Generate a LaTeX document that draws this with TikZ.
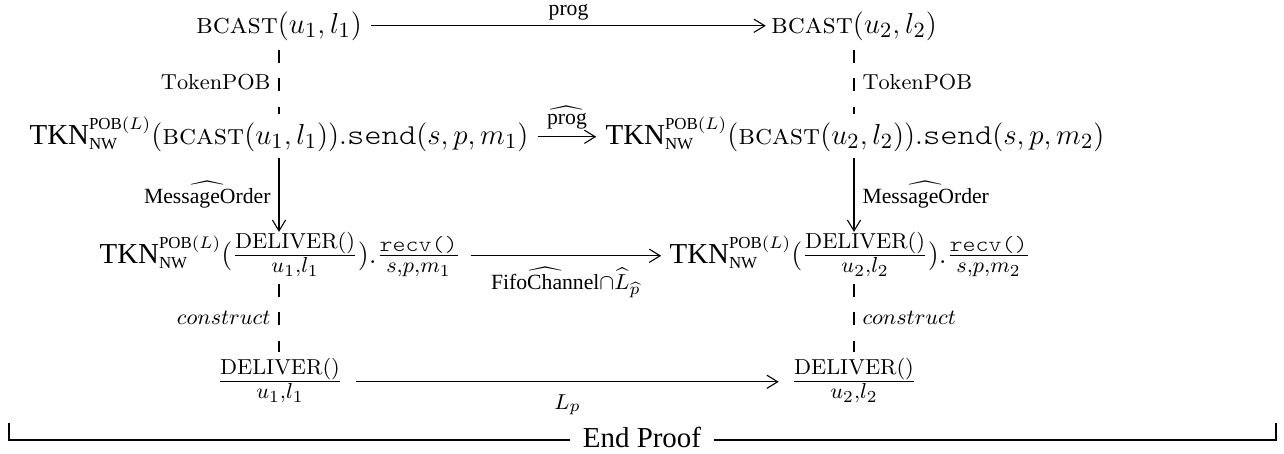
\documentclass[tikz,border=0pt]{standalone}
\usepackage{amsmath}
\usepackage{graphicx}
\usepackage{fontspec}
\newfontfamily\tnr{Liberation Serif}
\usetikzlibrary{arrows.meta,calc}
\DeclareMathSizes{12}{12}{9}{7}
\newcommand{\tkn}{\text{\tnr TKN}^{\scriptscriptstyle\text{\tnr POB}(L)}_{\scriptscriptstyle\text{\tnr NW}}}
\newcommand{\bcastx}{\text{\scshape bcast}}
\newcommand{\tx}[1]{\text{\tnr #1}}
\newcommand{\ttx}[1]{\text{\scalebox{1.14}[1]{\fontseries{l}\ttfamily #1}}}
\tikzset{
  every node/.style={inner sep=0pt, font=\fontsize{12}{14}\selectfont},
  cdarrow/.style={line width=0.45pt, -{Straight Barb[length=4.5pt,width=5.5pt]}},
  cdline/.style={line width=0.45pt},
  cddash/.style={line width=0.45pt, dash pattern=on 5.4pt off 6.4pt},
}
\begin{document}
\begin{tikzpicture}[x=0.415pt,y=-0.415pt]
\useasboundingbox (0,0) rectangle (1284,453);
% row 1
\node[anchor=base] (a1) at (279,33) {$\bcastx(u_1,l_1)$};
\node[anchor=base] (a2) at (854,33) {$\bcastx(u_2,l_2)$};
% row 2
\node[anchor=base] (b1) at (279,144) {$\tkn(\bcastx(u_1,l_1)).\ttx{send}(s,p,m_1)$};
\node[anchor=base] (b2) at (855,144) {$\tkn(\bcastx(u_2,l_2)).\ttx{send}(s,p,m_2)$};
% row 3
\node[anchor=base] (c1) at (280,263) {$\tkn(\frac{\mathrm{DELIVER()}}{u_1,l_1}).\frac{\ttx{recv()}}{s,p,m_1}$};
\node[anchor=base] (c2) at (850,263) {$\tkn(\frac{\mathrm{DELIVER()}}{u_2,l_2}).\frac{\ttx{recv()}}{s,p,m_2}$};
% row 4
\node[anchor=base] (d1) at (280,389) {$\frac{\mathrm{DELIVER()}}{u_1,l_1}$};
\node[anchor=base] (d2) at (854,389) {$\frac{\mathrm{DELIVER()}}{u_2,l_2}$};

% horizontal arrows
\draw[cdarrow] ([xshift=3.7pt,yshift=3pt]a1.base east) -- node[above=2pt] (lprog) {$\scriptstyle\tx{prog}$} ([xshift=-2pt,yshift=3pt]a2.base west);
\draw[cdarrow] ([xshift=3.7pt,yshift=3pt]b1.base east) -- node[above=3pt] (lprogh) {$\scriptstyle\widehat{\tx{prog}}$} ([xshift=-3.7pt,yshift=3pt]b2.base west);
\draw[cdarrow] ([xshift=4pt,yshift=3pt]c1.base east) -- node[below=4.5pt] (lfifo) {$\scriptstyle\widehat{\tx{FifoChannel}}\cap\widehat{L}_{\widehat{p}}$} ([xshift=-3.3pt,yshift=3pt]c2.base west);
\draw[cdarrow] ([xshift=5.4pt,yshift=3pt]d1.base east) -- node[below=5pt] (llp) {$\scriptstyle L_p$} ([xshift=-5pt,yshift=3pt]d2.base west);

% left column
\draw[cddash] ([yshift=-7pt]a1.base) -- node[left=3.3pt] (ltok1) {$\scriptstyle\mathrm{TokenPOB}$} ([yshift=1pt]a1.base |- b1.north);
\draw[cdarrow] ([yshift=-2.5pt]a1.base |- b1.south) -- node[left=3.3pt] (lmo1) {$\scriptstyle\widehat{\tx{MessageOrder}}$} ([yshift=0pt]a1.base |- c1.north);
\draw[cddash] ([yshift=-2.5pt]a1.base |- c1.south) -- node[left=3.3pt] (lcon1) {$\scriptstyle construct$} ([yshift=2.5pt]a1.base |- d1.north);

% right column
\draw[cddash] ([yshift=-7pt]a2.base) -- node[right=3.3pt] (ltok2) {$\scriptstyle\mathrm{TokenPOB}$} ([yshift=1pt]a2.base |- b2.north);
\draw[cdarrow] ([yshift=-2.5pt]a2.base |- b2.south) -- node[right=3.3pt] (lmo2) {$\scriptstyle\widehat{\tx{MessageOrder}}$} ([yshift=0pt]a2.base |- c2.north);
\draw[cddash] ([yshift=-2.5pt]a2.base |- c2.south) -- node[right=3.3pt] (lcon2) {$\scriptstyle construct$} ([yshift=2.5pt]a2.base |- d2.north);

% end proof
\node[anchor=base, text height=5.8pt, text depth=0pt, font=\fontsize{12}{14}\selectfont\tnr] (ep) at (642,447) {End Proof};
\coordinate (tl) at (9,423);
\coordinate (tr) at (1276,423);
\draw[cdline] ([xshift=-5pt]ep.west) -- (ep.west -| tl) -- (tl);
\draw[cdline] ([xshift=5pt]ep.east) -- (ep.east -| tr) -- (tr);
\end{tikzpicture}
\end{document}
